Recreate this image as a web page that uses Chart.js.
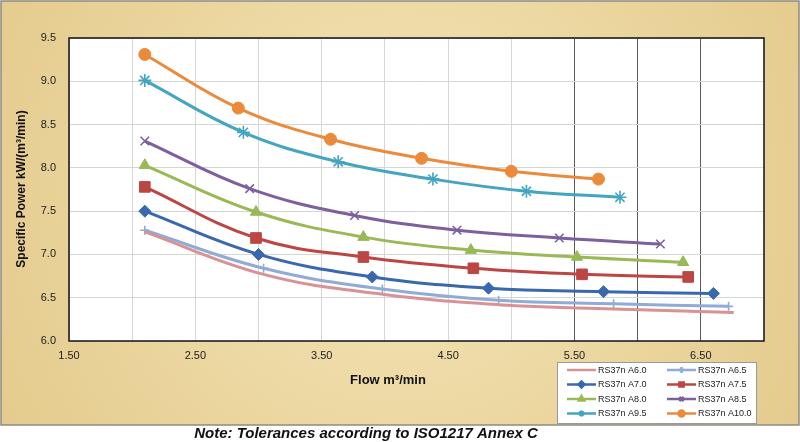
<!DOCTYPE html>
<html>
<head>
<meta charset="utf-8">
<script src="https://cdn.jsdelivr.net/npm/chart.js@4.4.1/dist/chart.umd.min.js"></script>
<style>
  html, body { margin: 0; padding: 0; background: #fff; }
  #chart { display: block; }
</style>
</head>
<body>
<canvas id="chart" width="800" height="442"></canvas>
<script>
// ── DATA ──────────────────────────────────────────────────
const seriesNames = ['RS37n A6.0', 'RS37n A6.5', 'RS37n A7.0', 'RS37n A7.5',
                     'RS37n A8.0', 'RS37n A8.5', 'RS37n A9.5', 'RS37n A10.0'];

// flow (m3/min) per series
const flow = [
    [2.10, 3.04, 3.98, 4.90, 5.81, 6.76],
    [2.10, 3.04, 3.98, 4.90, 5.81, 6.72],
    [2.10, 3.00, 3.90, 4.82, 5.73, 6.60],
    [2.10, 2.98, 3.83, 4.70, 5.56, 6.40],
    [2.10, 2.98, 3.83, 4.68, 5.52, 6.36],
    [2.10, 2.93, 3.76, 4.57, 5.38, 6.18],
    [2.10, 2.88, 3.63, 4.38, 5.12, 5.86],
    [2.10, 2.84, 3.57, 4.29, 5.00, 5.69]
];

// specific power kW/(m3/min) per series
const power = [
    [7.26, 6.77, 6.54, 6.42, 6.37, 6.33],
    [7.28, 6.84, 6.60, 6.47, 6.43, 6.40],
    [7.50, 7.00, 6.74, 6.61, 6.57, 6.55],
    [7.78, 7.19, 6.97, 6.84, 6.77, 6.74],
    [8.03, 7.49, 7.20, 7.05, 6.97, 6.91],
    [8.31, 7.76, 7.45, 7.28, 7.19, 7.12],
    [9.01, 8.41, 8.07, 7.87, 7.73, 7.66],
    [9.31, 8.69, 8.33, 8.11, 7.96, 7.87]
];

const xTickValues = [1.5, 2.5, 3.5, 4.5, 5.5, 6.5];   // labelled flow ticks

// ── STYLE ─────────────────────────────────────────────────
const colors  = ['#d99294', '#8fabd6', '#3a68ad', '#bb4643', '#98b954', '#7d5f9e', '#43a5c0', '#ec8a3c'];
const markers = [false, 'cross', 'rectRot', 'rect', 'triangle', 'crossRot', 'star', 'circle'];
const markerSize = [0, 4.5, 6, 7.5, 6.5, 6, 6.5, 6];
const FONT = '"Liberation Sans", Arial, sans-serif';

const datasets = seriesNames.map((name, i) => ({
    label: name,
    data: flow[i].map((x, j) => ({ x, y: power[i][j] })),
    borderColor: colors[i],
    backgroundColor: colors[i],
    borderWidth: 3,
    tension: 0.4,
    pointStyle: markers[i] || 'circle',
    pointRadius: markerSize[i],
    pointBorderWidth: (markers[i] === 'cross' || markers[i] === 'crossRot' || markers[i] === 'star') ? 1.6 : 1,
    pointHoverRadius: markerSize[i]
}));

// parchment + white plot area
const backdrop = {
    id: 'backdrop',
    beforeDraw(chart) {
        const { ctx, chartArea: a } = chart;
        ctx.save();
        ctx.fillStyle = '#fff';
        ctx.fillRect(0, 0, chart.width, chart.height);
        const g = ctx.createRadialGradient(400, 200, 60, 400, 200, 520);
        g.addColorStop(0, '#f2e2b2');
        g.addColorStop(1, '#e2c787');
        ctx.fillStyle = g;
        ctx.fillRect(1, 1, 798, 424);
        ctx.strokeStyle = '#8c8a84';
        ctx.lineWidth = 1.5;
        ctx.strokeRect(1, 1, 798, 424);
        ctx.fillStyle = '#fff';
        ctx.fillRect(a.left, a.top, a.right - a.left, a.bottom - a.top);
        ctx.restore();
    },
    beforeDatasetsDraw(chart) {
        const { ctx, chartArea: a } = chart;
        ctx.save();
        ctx.strokeStyle = '#111';
        ctx.lineWidth = 1.5;
        ctx.strokeRect(a.left, a.top, a.right - a.left, a.bottom - a.top);
        ctx.restore();
    }
};

// axis titles, note and boxed two-column legend
const annotations = {
    id: 'annotations',
    afterDraw(chart) {
        const { ctx } = chart;
        ctx.save();
        ctx.fillStyle = '#111';
        ctx.textAlign = 'center';
        ctx.textBaseline = 'middle';

        ctx.font = 'bold 13px ' + FONT;
        ctx.fillText('Flow m³/min', 388, 380);

        ctx.font = 'bold 12px ' + FONT;
        ctx.save();
        ctx.translate(22, 189);
        ctx.rotate(-Math.PI / 2);
        ctx.fillText('Specific Power kW/(m³/min)', 0, 0);
        ctx.restore();

        ctx.font = 'italic bold 15px ' + FONT;
        ctx.fillText('Note: Tolerances according to ISO1217 Annex C', 366, 434);

        // legend
        const bx = 557, by = 362, bw = 199, bh = 61;
        ctx.fillStyle = '#fff';
        ctx.fillRect(bx, by, bw, bh);
        ctx.strokeStyle = '#9a9a9a';
        ctx.lineWidth = 1;
        ctx.strokeRect(bx + 0.5, by + 0.5, bw, bh);

        ctx.font = '9px ' + FONT;
        ctx.textAlign = 'left';
        chart.data.datasets.forEach((ds, i) => {
            const col = i % 2, row = Math.floor(i / 2);
            const lx = bx + 10 + col * 100, ly = by + 8 + row * 14.5;
            ctx.strokeStyle = ds.borderColor;
            ctx.lineWidth = 2.5;
            ctx.beginPath();
            ctx.moveTo(lx, ly);
            ctx.lineTo(lx + 29, ly);
            ctx.stroke();
            if (markers[i]) {
                Chart.helpers.drawPoint(ctx, {
                    pointStyle: markers[i], radius: 3, rotation: 0, borderWidth: 1
                }, lx + 14.5, ly);
                ctx.fillStyle = ds.borderColor;
                ctx.fill();
            }
            ctx.fillStyle = '#222';
            ctx.fillText(ds.label, lx + 31, ly + 0.5);
        });
        ctx.restore();
    }
};

new Chart(document.getElementById('chart').getContext('2d'), {
    type: 'line',
    data: { datasets },
    options: {
        responsive: false,
        animation: false,
        layout: { padding: { top: 38, right: 36, left: 0, bottom: 0 } },
        plugins: { legend: { display: false }, tooltip: { enabled: false } },
        scales: {
            x: {
                type: 'linear',
                min: 1.5, max: 7.0,
                afterFit: s => { s.height = 101; },
                border: { display: false },
                grid: {
                    drawTicks: false,
                    lineWidth: 1,
                    color: c => (c.tick && c.tick.value >= 5.5 && c.tick.value <= 6.5) ? '#5a5a5a' : '#d6d6d6'
                },
                ticks: {
                    stepSize: 0.5,
                    autoSkip: false,
                    maxRotation: 0,
                    padding: 8,
                    color: '#222',
                    font: { family: FONT, size: 11 },
                    callback: v => xTickValues.some(t => Math.abs(t - v) < 1e-6) ? v.toFixed(2) : ''
                }
            },
            y: {
                min: 6.0, max: 9.5,
                afterFit: s => { s.width = 69; },
                border: { display: false },
                grid: { drawTicks: false, color: '#d6d6d6' },
                ticks: {
                    stepSize: 0.5,
                    padding: 13,
                    color: '#222',
                    font: { family: FONT, size: 11 },
                    callback: v => v.toFixed(1)
                }
            }
        }
    },
    plugins: [backdrop, annotations]
});
</script>
</body>
</html>
